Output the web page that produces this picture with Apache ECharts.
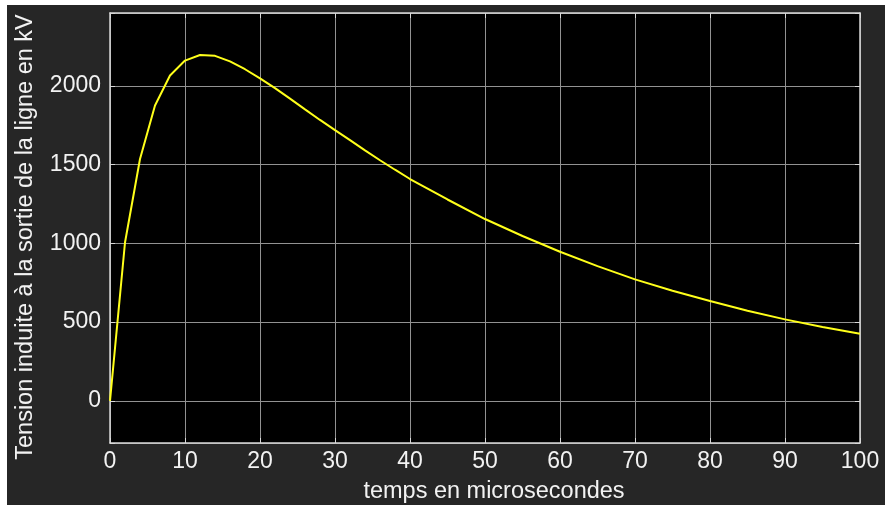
<!DOCTYPE html>
<html>
<head>
<meta charset="utf-8">
<script src="https://cdn.jsdelivr.net/npm/echarts@6/dist/echarts.min.js"></script>
<style>
html,body{margin:0;padding:0;background:#ffffff;width:890px;height:505px;overflow:hidden;}
#chart{position:absolute;left:7px;top:5px;width:878px;height:500px;}
</style>
</head>
<body>
<div id="chart"></div>
<script>
// time in microseconds
const timeUs = [0, 2, 4, 6, 8, 10, 12, 14, 16, 18, 20, 22, 24, 26, 28, 30, 32, 34, 36, 38, 40,
  45, 50, 55, 60, 65, 70, 75, 80, 85, 90, 95, 100];
// induced voltage in kV
const voltageKV = [0, 1005, 1535, 1875, 2065, 2160, 2195, 2190, 2155, 2105, 2047, 1985, 1918, 1850, 1783, 1718, 1655, 1590, 1527, 1467, 1408,
  1278, 1154, 1046, 946, 855, 771, 699, 633, 572, 517, 469, 425];
const xTitle = 'temps en microsecondes';
const yTitle = 'Tension induite à la sortie de la ligne en kV';
const xRange = [0, 100];
const yRange = [-268, 2462];

const chart = echarts.init(document.getElementById('chart'), null, {renderer: 'canvas'});
const font = '"Liberation Sans", Arial, Helvetica, sans-serif';
const textColor = '#f2f2f2';
const frameColor = '#d8d8d8';

function frameX(pos) {
  return {
    type: 'value', position: pos, min: xRange[0], max: xRange[1], interval: 10, z: 3,
    axisLine: {show: true, onZero: false, lineStyle: {color: frameColor, width: 1.5}},
    axisTick: {show: true, inside: true, length: 5, lineStyle: {color: frameColor, width: 1}},
    axisLabel: {show: false}, splitLine: {show: false}
  };
}
function frameY(pos) {
  return {
    type: 'value', position: pos, min: yRange[0], max: yRange[1], splitNumber: 5, z: 3,
    axisLine: {show: true, onZero: false, lineStyle: {color: frameColor, width: 1.5}},
    axisTick: {show: true, inside: true, length: 5, lineStyle: {color: frameColor, width: 1}},
    axisLabel: {show: false}, splitLine: {show: false}
  };
}

chart.setOption({
  backgroundColor: '#262626',
  animation: false,
  grid: {left: 103, right: 25, top: 8, bottom: 62, show: true, backgroundColor: '#000000', borderWidth: 0,
    containLabel: false, outerBoundsMode: 'none'},
  xAxis: [{
    type: 'value', position: 'bottom', min: xRange[0], max: xRange[1], interval: 10, z: 0,
    name: xTitle, nameLocation: 'middle', nameGap: 37,
    nameTextStyle: {color: textColor, fontSize: 23.5, fontFamily: font, padding: [0, 0, 0, 18]},
    axisLine: {show: false, onZero: false}, axisTick: {show: false},
    axisLabel: {color: textColor, fontSize: 23, fontFamily: font, margin: 7, formatter: v => String(v)},
    splitLine: {show: true, lineStyle: {color: '#929292', width: 1}}
  }, frameX('bottom'), frameX('top')],
  yAxis: [{
    type: 'value', position: 'left', min: yRange[0], max: yRange[1], splitNumber: 5, z: 0,
    name: yTitle, nameLocation: 'middle', nameGap: 72,
    nameTextStyle: {color: textColor, fontSize: 23.5, fontFamily: font, padding: [0, 18, 0, 0]},
    axisLine: {show: false, onZero: false}, axisTick: {show: false},
    axisLabel: {color: textColor, fontSize: 23, fontFamily: font, margin: 9, showMinLabel: false, showMaxLabel: false, formatter: v => String(v)},
    splitLine: {show: true, lineStyle: {color: '#929292', width: 1}}
  }, frameY('left'), frameY('right')],
  series: [{
    type: 'line',
    data: timeUs.map((t, i) => [t, voltageKV[i]]),
    xAxisIndex: 0, yAxisIndex: 0,
    showSymbol: false, symbol: 'none',
    lineStyle: {color: '#ffff1a', width: 2},
    z: 5
  }]
});
</script>
</body>
</html>
